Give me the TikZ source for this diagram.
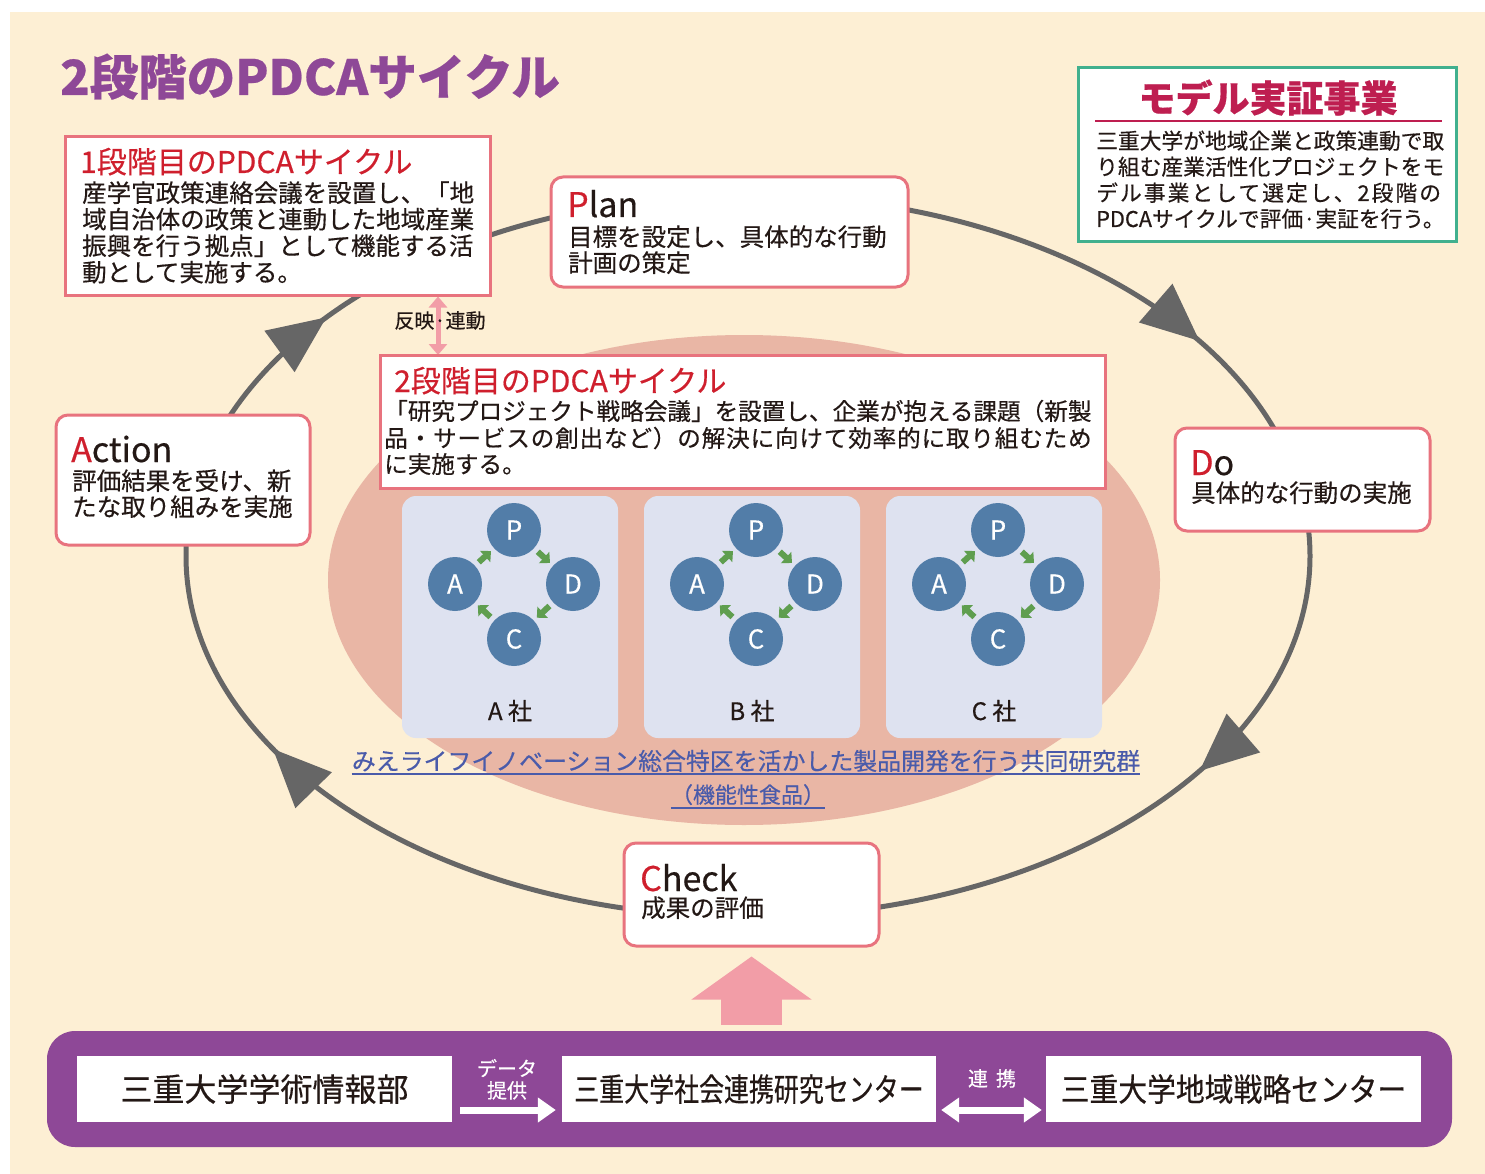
\documentclass[tikz,border=0pt]{standalone}
\usepackage{fontspec}
\setmainfont{Noto Sans CJK JP}[FakeBold=0.45]
\usetikzlibrary{arrows.meta,decorations.markings,calc}
\definecolor{cream}{HTML}{FDEFD4}
\definecolor{boxred}{HTML}{E8737E}
\definecolor{titred}{HTML}{CF1F2D}
\definecolor{ink}{HTML}{231815}
\definecolor{cycgrey}{HTML}{666666}
\definecolor{mgreen}{HTML}{41B08E}
\definecolor{crim}{HTML}{BE1E50}
\definecolor{pinkell}{HTML}{E9B6A5}
\definecolor{cobox}{HTML}{DEE2F0}
\definecolor{pdcblue}{HTML}{527DA8}
\definecolor{pdcgreen}{HTML}{5F9E4F}
\definecolor{linkblue}{HTML}{4A5BAA}
\definecolor{pinkarr}{HTML}{F29DA7}
\definecolor{purp}{HTML}{8E4897}
\newcommand{\myfs}[1]{\fontsize{#1}{#1}\selectfont}
\begin{document}
\begin{tikzpicture}[x=1pt,y=-1pt,
  sqbox/.style={draw=boxred, line width=3pt, fill=white, inner sep=0},
  rbox/.style={sqbox, rounded corners=12pt},
  bl/.style={anchor=base west, inner sep=0, text=ink},
  bc/.style={anchor=base, inner sep=0},
  body/.style={bl, font=\myfs{24.5}},
  head/.style={bl, font=\myfs{30}, text=titred},
  lat/.style={bl, font=\myfs{34}},
  pdc/.style={circle, fill=pdcblue, text=white, minimum size=54pt, inner sep=0, font=\myfs{26}},
  garrow/.style={draw=pdcgreen, line width=6pt, -{Triangle[length=8pt,width=15pt]}, shorten <=5pt, shorten >=4pt},
  wbox/.style={fill=white, inner sep=0, minimum height=66pt, text=ink, font=\myfs{32}},
  cyc/.style={color=cycgrey, line width=5pt}
]
\useasboundingbox (0,0) rectangle (1485,1174);
\fill[white] (0,0) rectangle (1485,1174);
\fill[cream] (10,12) rectangle (1485,1174);

% title
\node[bl, font=\bfseries\myfs{48.5}, text=purp] (title) at (60,95) {2段階のPDCAサイクル};

% pink ellipse
\fill[pinkell] (744,580) ellipse [x radius=416, y radius=245];

% cycle
\draw[cyc, postaction={decorate}, decoration={markings,
  mark=at position 0.085 with {\arrow{Triangle[length=58pt,width=50pt]}},
  mark=at position 0.426 with {\arrow{Triangle[length=58pt,width=50pt]}},
  mark=at position 0.598 with {\arrow{Triangle[length=58pt,width=50pt]}},
  mark=at position 0.915 with {\arrow{Triangle[length=58pt,width=50pt]}}}]
  (748,556) ellipse [x radius=562, y radius=361];

% stage 1 box
\node[sqbox, minimum width=425pt, minimum height=158pt] (s1) at (277.5,216) {};
\node[head] (s1t) at (80,173) {1段階目のPDCAサイクル};
\node[body] (s1a) at (82,202) {産学官政策連絡会議を設置し、「地};
\node[body] (s1b) at (82,228.5) {域自治体の政策と連動した地域産業};
\node[body] (s1c) at (82,255) {振興を行う拠点」として機能する活};
\node[body] (s1d) at (82,281.5) {動として実施する。};

% plan
\node[rbox, minimum width=357pt, minimum height=110pt] (plan) at (729.5,232) {};
\node[lat] (plant) at (567,217) {\textcolor{titred}{P}lan};
\node[body] (plana) at (568,246) {目標を設定し、具体的な行動};
\node[body] (planb) at (568,272) {計画の策定};

% model box
\node[draw=mgreen, line width=3pt, fill=white, inner sep=0, minimum width=378pt, minimum height=174pt] (model) at (1267,155) {};
\node[bc, font=\bfseries\myfs{37}, text=crim] (modelt) at (1268,112) {モデル実証事業};
\draw[crim, line width=1.5pt] (1095,121) -- (1442,121);
\node[bl, font=\myfs{21.75}] (ma) at (1096,149) {三重大学が地域企業と政策連動で取};
\node[bl, font=\myfs{21.75}] (mb) at (1096,175) {り組む産業活性化プロジェクトをモ};
\node[bl, font=\myfs{21.75}\addfontfeature{LetterSpace=9.5}] (mc) at (1096,201) {デル事業として選定し、2段階の};
\node[bl, font=\myfs{21.75}] (md) at (1096,227) {PDCAサイクルで評価·実証を行う。};

% link arrow between stages
\coordinate (ax) at (438,0);
\draw[pinkarr, line width=5pt, {Triangle[length=11pt,width=18pt]}-{Triangle[length=11pt,width=18pt]}]
  (ax |- s1.south) -- (ax |- 0,355);
\node[bc, font=\myfs{20}, text=ink] (hanei) at (440,328) {反映·連動};

% stage 2 box
\node[sqbox, minimum width=725pt, minimum height=133pt] (s2) at (742.5,421.5) {};
\node[head] (s2t) at (394,392) {2段階目のPDCAサイクル};
\node[bl, font=\myfs{23.6}] (s2a) at (384,420) {「研究プロジェクト戦略会議」を設置し、企業が抱える課題（新製};
\node[bl, font=\myfs{23.6}\addfontfeature{LetterSpace=3.5}] (s2b) at (384,447) {品・サービスの創出など）の解決に向けて効率的に取り組むため};
\node[bl, font=\myfs{23.6}] (s2c) at (384,473) {に実施する。};

% action
\node[rbox, minimum width=254pt, minimum height=130pt] (act) at (183,480) {};
\node[lat] (actt) at (71,462) {\textcolor{titred}{A}ction};
\node[body] (acta) at (72,490) {評価結果を受け、新};
\node[body] (actb) at (72,516) {たな取り組みを実施};

% do
\node[rbox, minimum width=255pt, minimum height=103pt] (do) at (1302.5,479.5) {};
\node[lat] (dot) at (1190,475) {\textcolor{titred}{D}o};
\node[body] (doa) at (1191,502) {具体的な行動の実施};

% check
\node[rbox, minimum width=255pt, minimum height=103pt] (chk) at (751.5,894.5) {};
\node[lat] (chkt) at (640,891) {\textcolor{titred}{C}heck};
\node[body] (chka) at (641,917) {成果の評価};

% companies
\foreach \n/\dx in {A/0,B/242,C/484}{
  \node[fill=cobox, rounded corners=14pt, minimum width=216pt, minimum height=242pt, inner sep=0] (co\n) at (510+\dx,617) {};
  \node[pdc] (p\n) at (514+\dx,530) {P};
  \node[pdc] (a\n) at (455+\dx,584) {A};
  \node[pdc] (d\n) at (573+\dx,584) {D};
  \node[pdc] (c\n) at (514+\dx,639) {C};
  \draw[garrow] (a\n) -- (p\n);
  \draw[garrow] (p\n) -- (d\n);
  \draw[garrow] (d\n) -- (c\n);
  \draw[garrow] (c\n) -- (a\n);
  \node[bc, font=\myfs{24}, text=ink] (lb\n) at (510+\dx,720) {\n\ 社};
}

% link text
\node[bc, font=\myfs{23.9}, text=linkblue] (lk1) at (746,770) {みえライフイノベーション総合特区を活かした製品開発を行う共同研究群};
\node[bc, font=\myfs{22}, text=linkblue] (lk2) at (748,803) {（機能性食品）};
\draw[linkblue, line width=1.5pt] ([yshift=-4pt]lk1.base west) -- ([yshift=-4pt]lk1.base east);
\draw[linkblue, line width=1.5pt] ([yshift=-5pt]lk2.base west) -- ([yshift=-5pt]lk2.base east);

% bottom bar
\node[fill=purp, rounded corners=28pt, minimum width=1405pt, minimum height=116pt, inner sep=0] (bar) at (749.5,1089) {};
\node[wbox, minimum width=375pt] (info) at (264.5,1089) {三重大学学術情報部};
\node[wbox, minimum width=374pt] (soc) at (749,1089) {\scalebox{0.78}[1]{三重大学社会連携研究センター}};
\node[wbox, minimum width=375pt] (reg) at (1233.5,1089) {\scalebox{0.9}[1]{三重大学地域戦略センター}};

% big pink arrow up to check
\draw[pinkarr, line width=61pt, -{Triangle[length=43pt,width=118pt]}, shorten <=6pt, shorten >=9pt]
  (bar.north -| chk.south) -- (chk.south);

% data arrow
\draw[white, line width=7pt, -{Triangle[length=18pt,width=24pt]}, shorten <=8pt, shorten >=6pt]
  (info.east |- 0,1110) -- (soc.west |- 0,1110);
\node[bc, font=\myfs{20}, text=white] (dt1) at (507,1076) {データ};
\node[bc, font=\myfs{20}, text=white] (dt2) at (507,1098) {提供};

% cooperation arrow
\draw[white, line width=7pt, {Triangle[length=18pt,width=24pt]}-{Triangle[length=18pt,width=24pt]}, shorten <=5pt, shorten >=4pt]
  (soc.east |- 0,1110) -- (reg.west |- 0,1110);
\node[bc, font=\myfs{20}, text=white] (rk) at (992,1086) {連\hspace{8pt}携};
\end{tikzpicture}
\end{document}
